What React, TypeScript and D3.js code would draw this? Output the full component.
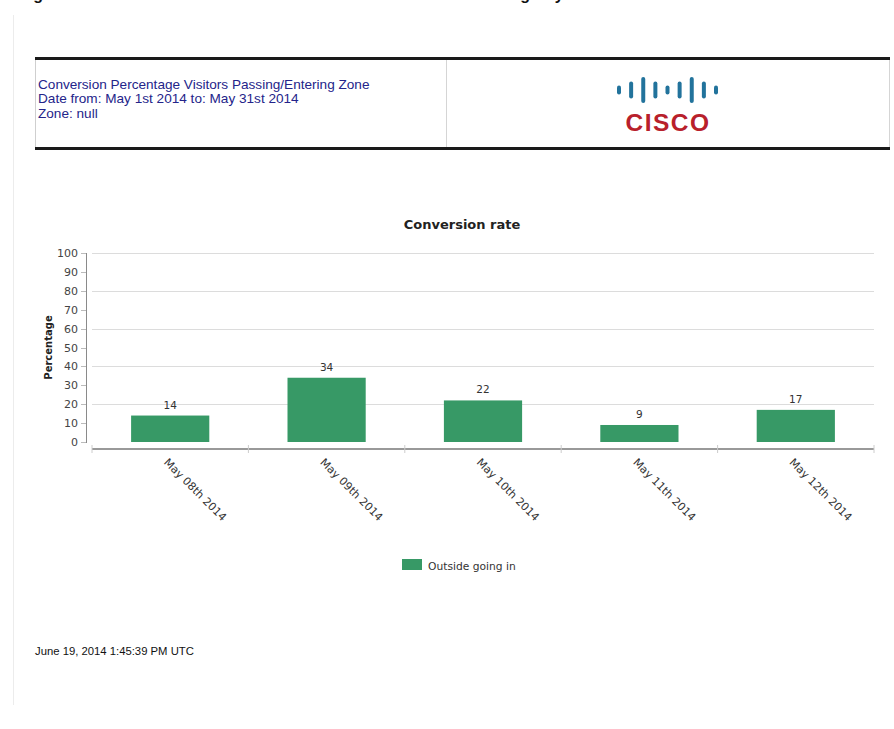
import React from "react";
import * as d3 from "d3";

const categories = ["May 08th 2014", "May 09th 2014", "May 10th 2014", "May 11th 2014", "May 12th 2014"];
const values = [14, 34, 22, 9, 17];
const yTicks = [0, 10, 20, 30, 40, 50, 60, 70, 80, 90, 100];
const gridTicks = [20, 40, 60, 80, 100];
const seriesName = "Outside going in";
const headerLines = [
  "Conversion Percentage Visitors Passing/Entering Zone",
  "Date from: May 1st 2014 to: May 31st 2014",
  "Zone: null",
];
const logoBars = ["s", "m", "t", "m", "s", "m", "t", "m", "s"];
const footerText = "June 19, 2014 1:45:39 PM UTC";
const captionText = "Figure 10 Conversion Rate of Visitors Outside to Inside Zone Using Day";

const W = 894;
const H = 729;
const chartFont = "'DejaVu Sans', sans-serif";
const headFont = "'Liberation Sans', Arial, sans-serif";
const barColor = "#379966";

export default function App() {
  const x = d3.scaleBand<string>().domain(categories).range([92, 874]).paddingInner(0.5).paddingOuter(0.25);
  const y = d3.scaleLinear().domain([0, 100]).range([442, 253]);
  const step = x.step();
  const [x0, x1] = x.range();
  const boundaries = d3.range(categories.length + 1).map((i) => x0 + i * step);

  const logoX = d3.scalePoint<number>().domain(d3.range(logoBars.length)).range([619, 716]);
  const logoH: Record<string, number> = { s: 9, m: 17, t: 26 };

  return (
    <svg width={W} height={H} style={{ position: "absolute", left: 0, top: 0, background: "#fff" }}>
      <rect x={0} y={0} width={W} height={H} fill="#fff" />
      {/* clipped caption at top */}
      <text x={19} y={-0.5} fontFamily={headFont} fontWeight="bold" fontSize={16} fill="#111">
        {captionText}
      </text>
      {/* faint page edge */}
      <line x1={13.5} x2={13.5} y1={15} y2={705} stroke="#ececec" strokeWidth={1} />

      {/* header box */}
      <line x1={35.5} x2={35.5} y1={59} y2={148} stroke="#cfcfcf" />
      <line x1={446.5} x2={446.5} y1={59} y2={148} stroke="#d5d5d5" />
      <line x1={889.5} x2={889.5} y1={59} y2={148} stroke="#d5d5d5" />
      <line x1={35} x2={890} y1={58.5} y2={58.5} stroke="#1a1a1a" strokeWidth={3} />
      <line x1={35} x2={890} y1={148.5} y2={148.5} stroke="#1a1a1a" strokeWidth={3} />
      {headerLines.map((t, i) => (
        <text key={t} x={38} y={88.5 + i * 14.5} fontFamily={headFont} fontSize={13.6} fill="#24248a">
          {t}
        </text>
      ))}
      {/* cisco logo */}
      {logoBars.map((b, i) => (
        <line
          key={i}
          x1={logoX(i)}
          x2={logoX(i)}
          y1={90 - logoH[b] / 2 + 2}
          y2={90 + logoH[b] / 2 - 2}
          stroke="#22739c"
          strokeWidth={4}
          strokeLinecap="round"
        />
      ))}
      <text x={668} y={130.5} textAnchor="middle" fontFamily={headFont} fontWeight="bold" fontSize={24.5} letterSpacing={1.5} fill="#b8202b">
        CISCO
      </text>

      {/* chart title */}
      <text x={462} y={229} textAnchor="middle" fontFamily={chartFont} fontWeight="bold" fontSize={13} fill="#222">
        Conversion rate
      </text>

      {/* gridlines */}
      {gridTicks.map((t) => (
        <line key={t} x1={x0} x2={x1} y1={Math.round(y(t)) + 0.5} y2={Math.round(y(t)) + 0.5} stroke="#dcdcdc" />
      ))}

      {/* y axis */}
      <line x1={86.5} x2={86.5} y1={y(100)} y2={y(0) + 1} stroke="#8a8a8a" />
      {yTicks.map((t) => (
        <g key={t}>
          <line x1={81} x2={86} y1={Math.round(y(t)) + 0.5} y2={Math.round(y(t)) + 0.5} stroke="#bbb" />
          <text x={78} y={y(t) + 4} textAnchor="end" fontFamily={chartFont} fontSize={11} fill="#444">
            {t}
          </text>
        </g>
      ))}
      <text
        transform={`translate(52, ${(y(0) + y(100)) / 2}) rotate(-90)`}
        textAnchor="middle"
        fontFamily={chartFont}
        fontWeight="bold"
        fontSize={10}
        fill="#222"
      >
        Percentage
      </text>

      {/* bars */}
      {categories.map((c, i) => (
        <g key={c}>
          <rect x={x(c)} y={y(values[i])} width={x.bandwidth()} height={y(0) - y(values[i])} fill={barColor} />
          <text x={(x(c) as number) + x.bandwidth() / 2} y={y(values[i]) - 7} textAnchor="middle" fontFamily={chartFont} fontSize={10.5} fill="#333">
            {values[i]}
          </text>
        </g>
      ))}

      {/* x axis */}
      <line x1={x0} x2={x1} y1={449} y2={449} stroke="#999" strokeWidth={2} />
      {boundaries.map((bx, i) => (
        <line key={i} x1={bx} x2={bx} y1={445} y2={453} stroke="#ccc" />
      ))}
      {categories.map((c) => {
        const cx = (x(c) as number) + x.bandwidth() / 2;
        return (
          <text key={c} transform={`translate(${cx - 7}, 463) rotate(45)`} fontFamily={chartFont} fontSize={11} fill="#333">
            {c}
          </text>
        );
      })}

      {/* legend */}
      <rect x={402} y={559} width={20} height={11} fill={barColor} />
      <text x={428} y={569.5} fontFamily={chartFont} fontSize={10.7} fill="#333">
        {seriesName}
      </text>

      {/* footer */}
      <text x={35} y={655} fontFamily={headFont} fontSize={11.3} fill="#111">
        {footerText}
      </text>
    </svg>
  );
}
